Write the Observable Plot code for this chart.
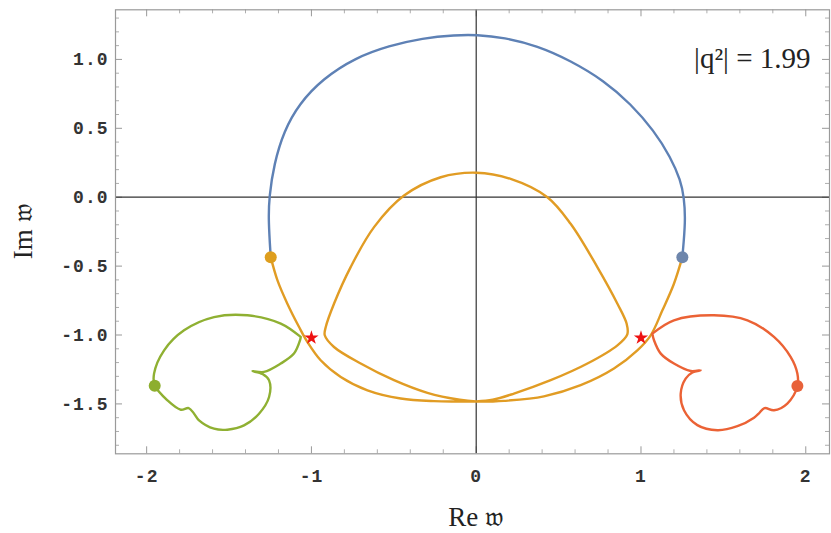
<!DOCTYPE html>
<html>
<head>
<meta charset="utf-8">
<script src="https://cdn.jsdelivr.net/npm/d3@7"></script>
<script src="https://cdn.jsdelivr.net/npm/@observablehq/plot@0.6"></script>
<style>
  html, body { margin: 0; padding: 0; background: #fff; }
  #chart svg { display: block; }
  #chart g[aria-label="y-axis tick label"] text,
  #chart g[aria-label="x-axis tick label"] text { letter-spacing: 1px; }
</style>
</head>
<body>
<div id="chart"></div>
<script>
// Trajectories in the complex w-plane, as [Re w, Im w] pairs
const blueCurve = [
  [-1.247,-0.435],[-1.261,-0.169],[-1.257,0],[-1.227,0.242],[-1.166,0.483],[-1.075,0.677],
  [-0.933,0.858],[-0.731,1.014],[-0.529,1.099],[-0.326,1.155],[-0.124,1.177],[0,1.179],
  [0.169,1.159],[0.371,1.099],[0.573,0.991],[0.776,0.846],[0.938,0.677],[1.079,0.483],
  [1.180,0.290],[1.241,0.121],[1.261,0],[1.271,-0.169],[1.251,-0.435]
];

const orangeCurve = [
  [-1.247,-0.435],[-1.206,-0.604],[-1.146,-0.773],[-1.075,-0.942],[-1.024,-1.051],[-0.944,-1.183],
  [-0.822,-1.304],[-0.660,-1.401],[-0.458,-1.461],[-0.256,-1.480],[-0.1,-1.482],[0,-1.482],
  [0.1,-1.470],[0.229,-1.425],[0.452,-1.328],[0.675,-1.207],[0.857,-1.075],[0.917,-0.995],
  [0.913,-0.918],[0.857,-0.773],[0.735,-0.507],[0.573,-0.193],[0.432,0],[0.209,0.133],[0,0.178],
  [-0.215,0.145],[-0.438,0.012],[-0.620,-0.217],[-0.762,-0.507],[-0.863,-0.773],[-0.913,-0.942],
  [-0.919,-1.002],[-0.863,-1.087],[-0.701,-1.207],[-0.499,-1.328],[-0.296,-1.420],[-0.1,-1.470],
  [0,-1.482],[0.1,-1.482],[0.169,-1.478],[0.411,-1.445],[0.634,-1.364],[0.836,-1.243],[0.978,-1.111],
  [1.059,-1.002],[1.130,-0.821],[1.200,-0.628],[1.251,-0.435]
];

const greenCurve = [
  [-1.065,-1.014],[-1.186,-0.917],[-1.388,-0.857],[-1.591,-0.870],[-1.773,-0.966],[-1.894,-1.111],
  [-1.955,-1.280],[-1.951,-1.365],[-1.874,-1.474],[-1.793,-1.542],[-1.745,-1.530],[-1.712,-1.571],
  [-1.682,-1.619],[-1.591,-1.680],[-1.510,-1.687],[-1.409,-1.656],[-1.318,-1.571],[-1.257,-1.450],
  [-1.257,-1.329],[-1.297,-1.283],[-1.358,-1.262],[-1.288,-1.268],[-1.186,-1.207],[-1.106,-1.135],
  [-1.069,-1.038],[-1.065,-1.014]
];

const redCurve = [
  [1.069,-0.990],[1.200,-0.893],[1.443,-0.857],[1.646,-0.893],[1.807,-1.014],[1.908,-1.159],
  [1.949,-1.280],[1.949,-1.372],[1.888,-1.497],[1.807,-1.546],[1.750,-1.530],[1.716,-1.568],
  [1.686,-1.600],[1.585,-1.662],[1.464,-1.691],[1.342,-1.654],[1.261,-1.546],[1.241,-1.425],
  [1.271,-1.316],[1.312,-1.272],[1.362,-1.256],[1.302,-1.261],[1.200,-1.207],[1.120,-1.135],
  [1.079,-1.038],[1.069,-0.990]
];

// Starting points of each trajectory
const startOrange = [[-1.247,-0.435]];
const startBlue = [[1.251,-0.435]];
const startGreen = [[-1.951,-1.368]];
const startRed = [[1.949,-1.370]];

// Branch points
const branchPoints = [[-1.0,-1.02],[1.0,-1.02]];

// Axis ticks and annotation
const xTickValues = [-2, -1, 0, 1, 2];
const yTickValues = [-1.5, -1.0, -0.5, 0.0, 0.5, 1.0];
const xTitle = "Re 𝔴";
const yTitle = "Im 𝔴";
const annotation = "|q²| = 1.99";

const W = 831, H = 533;
const mL = 115, mR = 2, mT = 9.3, mB = 79.7;
const frameW = W - mL - mR, frameH = H - mT - mB;
const xDomain = [-2.189, 2.144], yDomain = [-1.862, 1.360];

// minor ticks every 0.2 in x and 0.1 in y
const xMinor = d3.range(-11, 12).map(i => i / 5).filter(v => !xTickValues.includes(v) && v >= xDomain[0] && v <= xDomain[1]);
const yMinor = d3.range(-18, 14).map(i => i / 10).filter(v => !yTickValues.some(t => Math.abs(t - v) < 1e-9) && v >= yDomain[0] && v <= yDomain[1]);

const BIG = 7, SMALL = 4;
const tickColor = "#999";
const px = d => d[0], py = d => d[1];
const lineOpts = {x: px, y: py, curve: "catmull-rom", strokeWidth: 2.4, strokeLinejoin: "round", strokeLinecap: "round"};

const chart = Plot.plot({
  width: W, height: H,
  marginLeft: mL, marginRight: mR, marginTop: mT, marginBottom: mB,
  x: {domain: xDomain},
  y: {domain: yDomain},
  style: {background: "#fff", color: "#333", overflow: "visible"},
  marks: [
    // frame ticks (inside the frame, on all four sides)
    Plot.ruleX(xTickValues, {x: d => d, insetTop: frameH - BIG, stroke: tickColor}),
    Plot.ruleX(xTickValues, {x: d => d, insetBottom: frameH - BIG, stroke: tickColor}),
    Plot.ruleX(xMinor, {x: d => d, insetTop: frameH - SMALL, stroke: tickColor, strokeWidth: 0.8}),
    Plot.ruleX(xMinor, {x: d => d, insetBottom: frameH - SMALL, stroke: tickColor, strokeWidth: 0.8}),
    Plot.ruleY(yTickValues, {y: d => d, insetRight: frameW - BIG, stroke: tickColor}),
    Plot.ruleY(yTickValues, {y: d => d, insetLeft: frameW - BIG, stroke: tickColor}),
    Plot.ruleY(yMinor, {y: d => d, insetRight: frameW - SMALL, stroke: tickColor, strokeWidth: 0.8}),
    Plot.ruleY(yMinor, {y: d => d, insetLeft: frameW - SMALL, stroke: tickColor, strokeWidth: 0.8}),
    // coordinate axes through the origin
    Plot.ruleX([0], {stroke: "#333", strokeWidth: 1.2}),
    Plot.ruleY([0], {stroke: "#333", strokeWidth: 1.2}),
    Plot.frame({stroke: "#9a9a9a", strokeWidth: 1.2}),
    Plot.axisX({
      ticks: xTickValues, tickSize: 0, tickPadding: 15, tickFormat: d => String(d),
      fontFamily: "Liberation Mono", fontSize: 18, fontWeight: "bold", label: null
    }),
    Plot.axisY({
      ticks: yTickValues, tickSize: 0, tickPadding: 7, tickFormat: d => d.toFixed(1),
      fontFamily: "Liberation Mono", fontSize: 18, fontWeight: "bold", label: null
    }),
    // trajectories
    Plot.line(blueCurve, {...lineOpts, curve: "basis", stroke: "#5E81B5"}),
    Plot.line(orangeCurve, {...lineOpts, stroke: "#E19C24"}),
    Plot.line(greenCurve, {...lineOpts, stroke: "#8FB032"}),
    Plot.line(redCurve, {...lineOpts, stroke: "#EB6235"}),
    // starting points
    Plot.dot(startOrange, {x: px, y: py, r: 6, fill: "#DE9E1E"}),
    Plot.dot(startBlue, {x: px, y: py, r: 6, fill: "#6E86AC"}),
    Plot.dot(startGreen, {x: px, y: py, r: 6, fill: "#8DAE2E"}),
    Plot.dot(startRed, {x: px, y: py, r: 6, fill: "#E8623A"}),
    // branch points
    Plot.dot(branchPoints, {x: px, y: py, r: 4.5, symbol: "star", fill: "#ee1111"}),
    // annotation and axis titles
    Plot.text([annotation], {
      frameAnchor: "top-right", dx: -19, dy: 58, textAnchor: "end", lineAnchor: "bottom",
      fontFamily: "Liberation Serif", fontSize: 29, fill: "#222"
    }),
    Plot.text([xTitle], {
      frameAnchor: "bottom", dx: 3, dy: 72, textAnchor: "middle", lineAnchor: "bottom",
      fontFamily: "Liberation Serif", fontSize: 27, fill: "#222"
    }),
    Plot.text([yTitle], {
      frameAnchor: "left", dx: -84, rotate: -90, textAnchor: "middle", lineAnchor: "bottom",
      fontFamily: "Liberation Serif", fontSize: 27, fill: "#222"
    })
  ]
});

document.getElementById("chart").appendChild(chart);
</script>
</body>
</html>
